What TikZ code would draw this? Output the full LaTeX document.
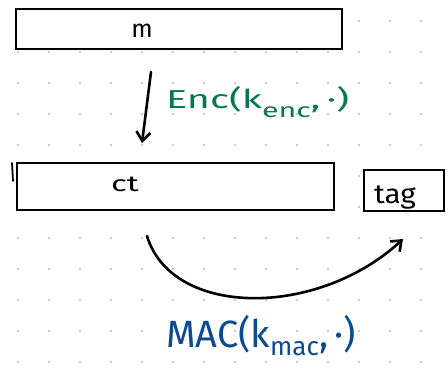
\documentclass[tikz,border=0pt]{standalone}
\usepackage{fontspec}
\setmainfont{Fira Sans}
\usepackage{graphicx}
\usetikzlibrary{arrows.meta}
\definecolor{dotgrey}{HTML}{C8C8C8}
\definecolor{encgreen}{HTML}{0B7654}
\definecolor{macblue}{HTML}{0C4A92}
\newcommand{\fsz}[1]{\fontsize{#1}{#1}\selectfont}
\tikzset{
  block/.style={draw=black, line width=1.8pt, fill=white, inner sep=0pt, anchor=north west},
  ink/.style={line width=2.6pt, line cap=round, line join=round},
  barb/.style={-{Straight Barb[length=9pt, width=14pt, line width=2.6pt]}},
  word/.style={anchor=base, inner sep=0pt},
}
\begin{document}
\begin{tikzpicture}[x=1pt, y=-1pt]
  \useasboundingbox (0,0) rectangle (448,370);
  \fill[white] (0,0) rectangle (448,370);
  % dotted grid
  \foreach \i in {0,...,13}
    \foreach \j in {0,...,11}
      \fill[dotgrey] (18+31*\i, 21+31*\j) circle (1.3pt);
  % message block
  \node[block, minimum width=326pt, minimum height=40pt] (m) at (15,8) {};
  \node[word, font=\fsz{25pt}] (mtext) at (142,37) {m};
  % ciphertext block
  \node[block, minimum width=317pt, minimum height=47pt] (ct) at (16,162) {};
  \node[word, font=\fsz{22pt}] (cttext) at (125,191) {\scalebox{1.5}[1]{ct}};
  \draw[line width=1.8pt, line cap=round] (12,163) -- (13,181);
  % tag block
  \node[block, minimum width=80pt, minimum height=41pt] (tag) at (363,169) {};
  \node[word, font=\fsz{27pt}] (tagtext) at (395,203) {\scalebox{1.1}[1]{tag}};
  % encryption arrow
  \coordinate (encfrom) at (151,72);
  \coordinate (encto) at (142,143);
  \draw[ink, barb] (encfrom) -- (encto);
  \node[anchor=base west, inner sep=0pt, text=encgreen, font=\fsz{26pt}] (enc) at (166,108)
    {\scalebox{1.52}[1]{Enc(k\raisebox{-9pt}{\fsz{20pt}enc},\,·)}};
  % MAC arrow
  \coordinate (macfrom) at (147,236);
  \coordinate (macto) at (403,239);
  \draw[ink, barb] (macfrom) .. controls (172,318) and (318,318) .. (macto);
  \node[anchor=base west, inner sep=0pt, text=macblue, font=\fsz{38pt}] (mac) at (166,347)
    {\scalebox{1.0}[1]{MAC(k\raisebox{-8pt}{\fsz{26pt}mac},\,·)}};
\end{tikzpicture}
\end{document}
